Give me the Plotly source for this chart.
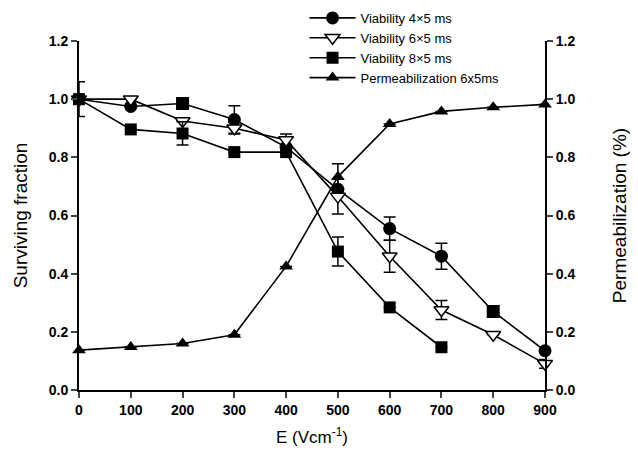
import plotly.graph_objects as go

E = [0, 100, 200, 300, 400, 500, 600, 700, 800, 900]
E8 = [0, 100, 200, 300, 400, 500, 600, 700]

v4 = [1.0, 0.975, 0.985, 0.93, 0.835, 0.69, 0.555, 0.46, 0.27, 0.135]
v4_err = [0.06, None, None, 0.047, None, None, 0.04, 0.045, 0.02, None]

v6 = [1.0, 1.0, 0.925, 0.90, 0.86, 0.665, 0.46, 0.275, 0.19, 0.09]
v6_err = [None, None, None, 0.02, 0.02, 0.06, 0.055, 0.033, None, 0.015]

v8 = [1.0, 0.896, 0.882, 0.818, 0.818, 0.476, 0.284, 0.147]
v8_err = [None, None, 0.04, None, None, 0.05, None, None]

perm = [0.137, 0.148, 0.16, 0.19, 0.425, 0.733, 0.915, 0.958, 0.972, 0.982]
perm_err = [None, None, None, None, None, 0.045, None, None, None, None]

names = ["Viability 4×5 ms", "Viability 6×5 ms", "Viability 8×5 ms", "Permeabilization 6x5ms"]

v4_symbols = ["circle", "circle", "square", "circle", "circle", "circle", "circle", "circle", "square", "circle"]

def err(a):
    return dict(type="data", array=a, visible=True, color="black", thickness=1.5, width=6)

fig = go.Figure()
fig.add_trace(go.Scatter(x=E, y=v4, name=names[0], mode="lines+markers",
                         line=dict(color="black", width=1.6),
                         marker=dict(symbol=v4_symbols, size=13, color="black"),
                         error_y=err(v4_err), cliponaxis=False))
fig.add_trace(go.Scatter(x=E, y=v6, name=names[1], mode="lines+markers",
                         line=dict(color="black", width=1.6),
                         marker=dict(symbol="triangle-down", size=13, color="white",
                                     line=dict(color="black", width=1.5)),
                         error_y=err(v6_err), cliponaxis=False))
fig.add_trace(go.Scatter(x=E8, y=v8, name=names[2], mode="lines+markers",
                         line=dict(color="black", width=1.6),
                         marker=dict(symbol="square", size=12, color="black"),
                         error_y=err(v8_err), cliponaxis=False))
fig.add_trace(go.Scatter(x=E, y=perm, name=names[3], mode="lines+markers", yaxis="y2",
                         line=dict(color="black", width=1.6),
                         marker=dict(symbol="triangle-up", size=12, color="black"),
                         error_y=err(perm_err), cliponaxis=False))

tickfont = dict(family="Liberation Sans, Arial, sans-serif", size=14, color="black", weight="bold")
titlefont = dict(family="Liberation Sans, Arial, sans-serif", size=17, color="black")
ytitlefont = dict(family="Liberation Sans, Arial, sans-serif", size=19, color="black")

fig.update_layout(
    width=630, height=452,
    margin=dict(l=71, r=93, t=33, b=70, autoexpand=False),
    paper_bgcolor="white", plot_bgcolor="white",
    showlegend=True,
    legend=dict(x=0.484, y=1.109, xanchor="left", yanchor="top",
                font=dict(family="Liberation Sans, Arial, sans-serif", size=13, color="black"),
                bgcolor="rgba(0,0,0,0)", tracegroupgap=0, itemwidth=46),
    xaxis=dict(range=[0, 900], tickvals=E, ticks="outside", ticklen=6, tickwidth=1.5,
               showline=True, linecolor="black", linewidth=2, showgrid=False, zeroline=False,
               tickfont=tickfont, title=dict(text="E (Vcm<sup>-1</sup>)", font=titlefont, standoff=14)),
    yaxis=dict(range=[0, 1.2], dtick=0.2, tickformat=".1f", ticks="outside", ticklen=6, tickwidth=1.5,
               showline=True, linecolor="black", linewidth=2, showgrid=False, zeroline=False,
               tickfont=tickfont, title=dict(text="Surviving fraction", font=ytitlefont, standoff=16)),
    yaxis2=dict(range=[0, 1.2], dtick=0.2, tickformat=".1f", ticks="outside", ticklen=6, tickwidth=1.5,
                overlaying="y", side="right",
                showline=True, linecolor="black", linewidth=2, showgrid=False, zeroline=False,
                tickfont=tickfont, title=dict(text="Permeabilization (%)", font=ytitlefont, standoff=38)),
)

fig.write_html("out.html")
